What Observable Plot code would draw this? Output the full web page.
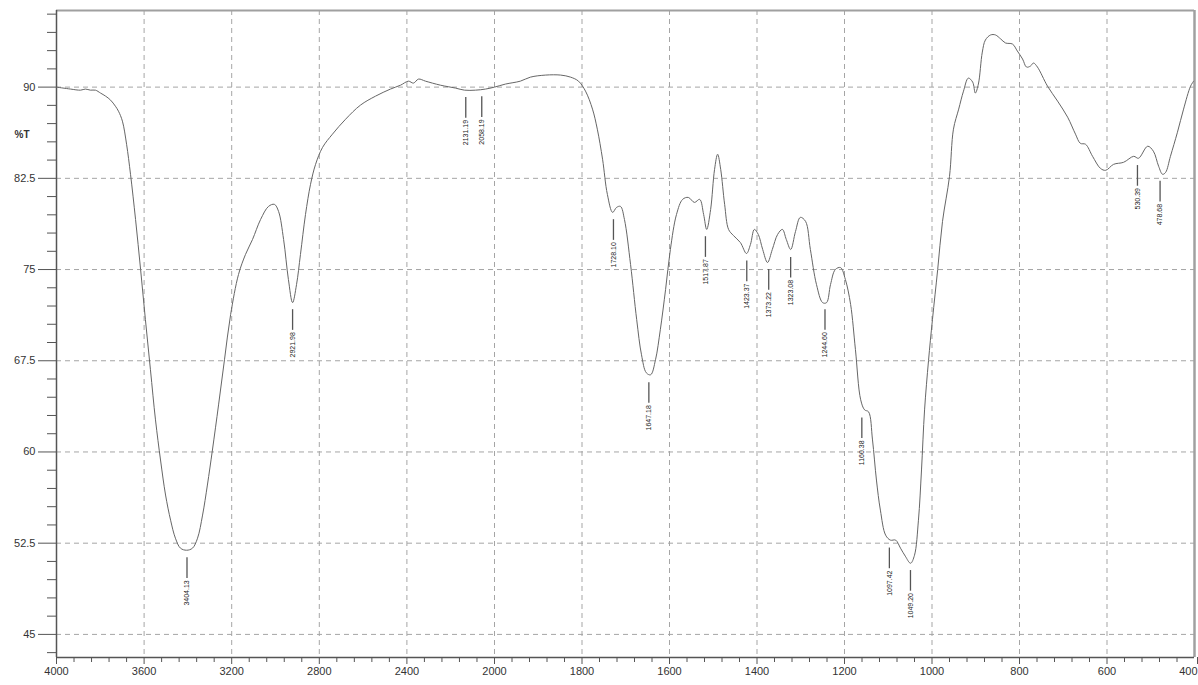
<!DOCTYPE html>
<html><head><meta charset="utf-8">
<script src="https://cdn.jsdelivr.net/npm/d3@7"></script>
<script src="https://cdn.jsdelivr.net/npm/@observablehq/plot@0.6"></script>
<style>body{margin:0;background:#fff;font-family:"Liberation Sans",Arial,sans-serif}</style>
</head><body><div id="chart"></div>
<script>
// Wavenumbers (cm-1) and %T
const wn = [4000,3936,3890,3868,3845,3822,3799,3776,3753,3731,3717,3699,3680,3662,3639,3616,3594,3571,3548,3525,3502,3479,3457,3434,3406,3379,3356,3333,3311,3288,3260,3233,3205,3169,3137,3105,3068,3032,3005,2986,2963,2941,2922,2904,2886,2863,2840,2817,2785,2740,2680,2612,2543,2475,2429,2393,2370,2347,2315,2247,2178,2137,2087,2041,2000,
1975,1941,1918,1883,1849,1826,1808,1792,1776,1765,1753,1742,1730,1721,1712,1703,1689,1675,1664,1653,1643,1632,1621,1609,1598,1584,1570,1557,1543,1531,1522,1515,1506,1497,1490,1483,1474,1465,1454,1438,1424,1415,1406,1397,1387,1376,1365,1353,1342,1333,1323,1312,1301,1289,1278,1264,1250,1241,1232,1221,1209,1198,1186,1175,1163,1154,1145,1136,1127,1118,1106,1095,1083,1072,1061,1049,1040,1031,1024,1017,1008,999,987,976,
960,951,939,928,917,907,901,894,885,878,866,855,843,832,816,805,793,784,775,768,759,736,713,690,672,661,649,633,615,603,585,562,539,528,507,494,482,473,466,455,439,425,409,402];
const tr = [90.00,89.84,89.75,89.84,89.75,89.75,89.51,89.26,88.93,88.43,88.02,87.20,85.30,82.83,79.12,75.00,70.88,66.76,62.64,59.34,56.46,54.39,52.91,52.09,51.92,52.09,52.91,54.81,57.28,60.16,63.87,67.58,71.29,74.59,76.24,77.47,79.12,80.19,80.36,79.78,77.47,74.18,72.28,73.76,76.24,79.53,82.01,83.65,85.05,86.13,87.36,88.52,89.26,89.84,90.16,90.49,90.33,90.66,90.49,90.16,89.92,89.75,89.75,89.84,90.00,
90.25,90.49,90.82,90.99,90.99,90.82,90.49,89.67,88.19,86.54,84.07,81.18,79.70,80.11,80.19,79.12,75.41,70.88,67.99,66.51,66.35,67.58,70.05,73.35,76.65,79.53,80.77,80.93,80.52,80.77,79.53,78.30,79.94,83.24,84.48,83.24,80.36,78.30,77.80,77.22,76.32,77.06,78.30,77.88,76.65,75.58,76.65,77.88,78.30,77.47,76.65,78.13,79.29,78.96,76.65,73.76,72.28,72.28,73.76,75.00,75.16,74.18,72.12,68.41,64.29,63.46,63.30,60.99,57.69,55.22,53.16,52.75,52.75,52.09,51.43,50.85,51.51,54.39,58.52,63.46,67.50,70.88,75.00,78.96,
82.66,86.54,88.19,89.67,90.74,90.41,89.51,90.25,92.88,93.87,94.29,94.29,93.96,93.63,93.54,92.97,92.31,91.65,91.73,91.98,91.65,90.08,88.85,87.53,86.13,85.38,85.30,84.31,83.32,83.16,83.65,83.82,84.31,84.15,85.14,84.73,83.49,82.83,82.99,84.31,86.29,88.19,90.08,90.49];

// Peak annotations
const peakWn = [3404.13,2921.98,2131.19,2058.19,1728.10,1647.18,1517.87,1423.37,1373.22,1323.08,1244.60,1160.38,1097.42,1049.20,530.39,478.68];
const peakLabels = ["3404.13","2921.98","2131.19","2058.19","1728.10","1647.18","1517.87","1423.37","1373.22","1323.08","1244.60","1160.38","1097.42","1049.20","530.39","478.68"];
const peakT = [51.9,72.3,89.75,89.8,79.7,66.3,78.3,76.3,75.6,76.6,72.3,63.4,52.7,50.85,84.15,82.85];

// Axis ticks
const xMajor = [4000,3600,3200,2800,2400,2000,1800,1600,1400,1200,1000,800,600,400];
const yMajor = [45,52.5,60,67.5,75,82.5,90];
const xMinor = d3.range(2000, 4001, 80).concat(d3.range(400, 2001, 40)).filter(v => !xMajor.includes(v));
const yMinor = d3.range(29, 65).map(i => i * 1.5).filter(v => !yMajor.includes(v));

const spectrum = wn.map((w, i) => ({w, t: tr[i]}));
const peaks = peakWn.map((w, i) => ({w, t: peakT[i], label: peakLabels[i]}));
const xDomain = [4000, 2000, 400];
const yDomain = [43.1, 96.3];
const lastX = xMajor[xMajor.length - 1];

const chart = Plot.plot({
  width: 1198,
  height: 685,
  marginLeft: 56, marginRight: 4, marginTop: 10, marginBottom: 28,
  style: {fontFamily: "'Liberation Sans', Arial, sans-serif", background: "#fff"},
  x: {type: "linear", domain: xDomain, range: [56, 494, 1194]},
  y: {type: "linear", domain: yDomain},
  marks: [
    // grid
    Plot.ruleX(xMajor.filter(v => v !== 4000 && v !== 400), {stroke: "#a5a5a5", strokeWidth: 1, strokeDasharray: "5,4"}),
    Plot.ruleY(yMajor, {stroke: "#a5a5a5", strokeWidth: 1, strokeDasharray: "5,4"}),
    // frame
    Plot.ruleY([yDomain[1]], {stroke: "#a0a0a0", strokeWidth: 2}),
    Plot.ruleX([400], {stroke: "#a0a0a0", strokeWidth: 2.5}),
    Plot.ruleX([4000], {stroke: "#555", strokeWidth: 1.5}),
    Plot.ruleY([yDomain[0]], {stroke: "#555", strokeWidth: 1.5}),
    // axes
    Plot.axisY(yMajor, {tickSize: 18, tickPadding: 3, stroke: "#555", fill: "#333", fontSize: 11, label: null, tickFormat: d => String(d)}),
    Plot.axisY(yMinor, {tickSize: 9, stroke: "#555", label: null, tickFormat: () => ""}),
    Plot.axisX(xMajor.filter(v => v !== lastX), {tickSize: 7, tickPadding: 3, stroke: "#555", fill: "#333", fontSize: 11, label: null, tickFormat: d => String(d)}),
    Plot.axisX([lastX], {tickSize: 7, tickPadding: 3, stroke: "#555", fill: "#333", fontSize: 11, label: null, textAnchor: "end", dx: 3, tickFormat: d => String(d)}),
    Plot.axisX(xMinor, {tickSize: 5, stroke: "#555", label: null, tickFormat: () => ""}),
    Plot.text(["%T"], {frameAnchor: "top-left", dx: -42, dy: 120, fontSize: 10, fontWeight: "bold", fill: "#333", textAnchor: "start"}),
    // spectrum
    Plot.line(spectrum, {x: "w", y: "t", stroke: "#666", strokeWidth: 1, curve: "catmull-rom"}),
    // peak markers
    Plot.ruleX(peaks, {x: "w", y1: d => d.t - 0.6, y2: d => d.t - 2.3, stroke: "#555", strokeWidth: 1.3}),
    Plot.text(peaks, {x: "w", y: d => d.t - 2.45, text: "label", rotate: -90, textAnchor: "end", fontSize: 7, fill: "#222"})
  ]
});
document.getElementById("chart").appendChild(chart);
</script>
</body></html>
